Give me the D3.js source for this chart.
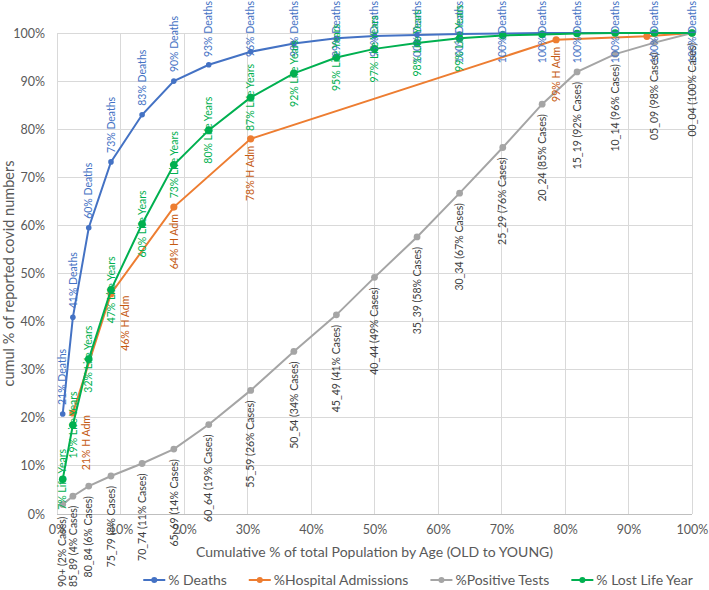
<!DOCTYPE html>
<html><head><meta charset="utf-8">
<script src="https://cdn.jsdelivr.net/npm/d3@7"></script>
<style>
body{margin:0;background:#fff}
text{font-family:Lato,"Open Sans",sans-serif}
</style></head>
<body>
<svg id="chart" width="709" height="590"></svg>
<script>
// ---- data ----
const ageGroups = ["90+","85_89","80_84","75_79","70_74","65_69","60_64","55_59","50_54","45_49","40_44","35_39","30_34","25_29","20_24","15_19","10_14","05_09","00_04"];
const popCumul = [0.9, 2.5, 5.0, 8.5, 13.4, 18.4, 23.9, 30.5, 37.3, 44.0, 50.0, 56.7, 63.4, 70.2, 76.4, 81.9, 87.9, 94.1, 100];
const deaths = [20.8, 40.9, 59.5, 73.2, 83.0, 90.0, 93.4, 96.1, 97.8, 98.9, 99.4, 99.6, 99.8, 99.9, 100, 100, 100, 100, 100];
const positiveTests = [2.0, 3.7, 5.8, 7.9, 10.5, 13.5, 18.6, 25.7, 33.8, 41.4, 49.2, 57.6, 66.7, 76.2, 85.2, 91.9, 95.6, 98.0, 100];
const lifeYears = [7.2, 18.5, 32.2, 46.6, 60.3, 72.6, 79.8, 86.6, 91.6, 94.9, 96.7, 97.9, 98.9, 99.5, 99.7, 99.9, 100, 100, 100];
const lifeYearsLabelled = 13; // number of points carrying a data label
const hospPopCumul = [2.5, 8.5, 18.4, 30.5, 78.6, 92.9, 100];
const hospAdm = [21.0, 45.8, 63.8, 78.0, 98.6, 99.3, 100];
const hospLabelled = 5;
const xTicks = [0,10,20,30,40,50,60,70,80,90,100];
const yTicks = [0,10,20,30,40,50,60,70,80,90,100];
const seriesNames = ["% Deaths","%Hospital Admissions","%Positive Tests","% Lost Life Year"];
const xTitle = "Cumulative % of total Population by Age (OLD to YOUNG)";
const yTitle = "cumul % of reported covid numbers";

// ---- layout ----
const W = 709, H = 590;
const m = {left:57, right:692, top:33, bottom:514};
const col = {blue:"#4472C4", orange:"#ED7D31", gray:"#A5A5A5", green:"#00B050"};
const svg = d3.select("#chart");
const x = d3.scaleLinear().domain([0,100]).range([m.left, m.right]);
const y = d3.scaleLinear().domain([0,100]).range([m.bottom, m.top]);

// gridlines
svg.append("g").selectAll("line").data(yTicks).join("line")
  .attr("x1", m.left).attr("x2", m.right).attr("y1", d=>y(d)).attr("y2", d=>y(d))
  .attr("stroke", d=>d===0?"#BFBFBF":"#D9D9D9").attr("stroke-width",1).attr("shape-rendering","crispEdges");
svg.append("g").selectAll("line").data(xTicks).join("line")
  .attr("x1", d=>x(d)).attr("x2", d=>x(d)).attr("y1", m.top).attr("y2", m.bottom)
  .attr("stroke","#D9D9D9").attr("stroke-width",1).attr("shape-rendering","crispEdges");

// axes tick labels via d3 axes
const fmt = d => d + "%";
const yAxis = svg.append("g").attr("transform",`translate(${m.left},0)`)
  .call(d3.axisLeft(y).tickValues(yTicks).tickFormat(fmt).tickSize(0).tickPadding(12));
const xAxis = svg.append("g").attr("transform",`translate(0,${m.bottom})`)
  .call(d3.axisBottom(x).tickValues(xTicks).tickFormat(fmt).tickSize(0).tickPadding(11));
[yAxis, xAxis].forEach(a=>{
  a.select(".domain").remove();
  a.selectAll("text").attr("fill","#595959").style("font-size","12.5px").style("font-family","Lato, sans-serif");
});

// titles
svg.append("text").attr("x",(m.left+m.right)/2).attr("y",557).attr("text-anchor","middle")
  .attr("fill","#595959").style("font-size","14px").text(xTitle);
svg.append("text").attr("transform",`translate(14,${(m.top+m.bottom)/2}) rotate(-90)`).attr("text-anchor","middle")
  .attr("fill","#595959").style("font-size","14.5px").text(yTitle);

// series
const series = [
  {name:seriesNames[0], color:col.blue, xs:popCumul, ys:deaths, r:2.8},
  {name:seriesNames[1], color:col.orange, xs:hospPopCumul, ys:hospAdm, r:3.6},
  {name:seriesNames[2], color:col.gray, xs:popCumul, ys:positiveTests, r:3.4},
  {name:seriesNames[3], color:col.green, xs:popCumul, ys:lifeYears, r:3.8},
];
const line = d3.line().x(d=>x(d[0])).y(d=>y(d[1]));
series.forEach(s=>{
  const pts = s.xs.map((v,i)=>[v, s.ys[i]]);
  const g = svg.append("g");
  g.append("path").datum(pts).attr("d",line).attr("fill","none").attr("stroke",s.color).attr("stroke-width",2);
  g.selectAll("circle").data(pts).join("circle").attr("cx",d=>x(d[0])).attr("cy",d=>y(d[1])).attr("r",s.r).attr("fill",s.color);
});

// data labels
const lblSize = "10.5px";
function rotLabel(px, py, txt, color, anchor){
  const t = svg.append("text").attr("transform",`translate(${px},${py}) rotate(-90)`)
    .attr("dy","0.35em").attr("text-anchor",anchor).attr("fill",color).style("font-size",lblSize).text(txt);
  return t;
}
// deaths: above point, clamped to the top
deaths.forEach((v,i)=>{
  const px = x(popCumul[i]), py = y(v);
  const t = rotLabel(px, py, Math.round(v)+"% Deaths", "#4472C4", "start");
  const len = t.node().getComputedTextLength();
  const sy = Math.max(py - 9, len + 1);
  t.attr("transform",`translate(${px},${sy}) rotate(-90)`);
});
// hospital: below point
const hospNudge = {0:13, 1:14};
hospAdm.slice(0,hospLabelled).forEach((v,i)=>{
  const px = x(hospPopCumul[i]) + (hospNudge[i]||0), py = y(v);
  rotLabel(px, py + (hospNudge[i]? 2 : 7), Math.round(v)+"% H Adm", "#C55A11", "end");
});
// positive tests: category labels below point, kept inside the picture
positiveTests.forEach((v,i)=>{
  const px = x(popCumul[i]), py = y(v);
  const t = rotLabel(px, py + (i===0 ? 14 : 10), `${ageGroups[i]} (${Math.round(v)}% Cases)`, "#404040", "end");
  const len = t.node().getComputedTextLength();
  const sy = Math.min(py + (i===0 ? 14 : 10), H - 3 - len);
  t.attr("transform",`translate(${px},${sy}) rotate(-90)`);
});
// life years: centred on point
lifeYears.slice(0,lifeYearsLabelled).forEach((v,i)=>{
  const px = x(popCumul[i]), py = y(v);
  rotLabel(px, py, Math.round(v)+"% Life Years", "#00B050", "middle");
});

// legend
const lg = svg.append("g");
let lx = 0;
series.forEach(s=>{
  const it = lg.append("g").attr("transform",`translate(${lx},0)`);
  it.append("line").attr("x1",0).attr("x2",22).attr("y1",0).attr("y2",0).attr("stroke",s.color).attr("stroke-width",2);
  it.append("circle").attr("cx",11).attr("cy",0).attr("r",3).attr("fill",s.color);
  const t = it.append("text").attr("x",25).attr("dy","0.35em").attr("fill","#595959").style("font-size","14px").text(s.name);
  lx += 25 + t.node().getComputedTextLength() + 22;
});
lx -= 22;
lg.attr("transform",`translate(${418 - lx/2},580)`);
</script>
</body></html>
